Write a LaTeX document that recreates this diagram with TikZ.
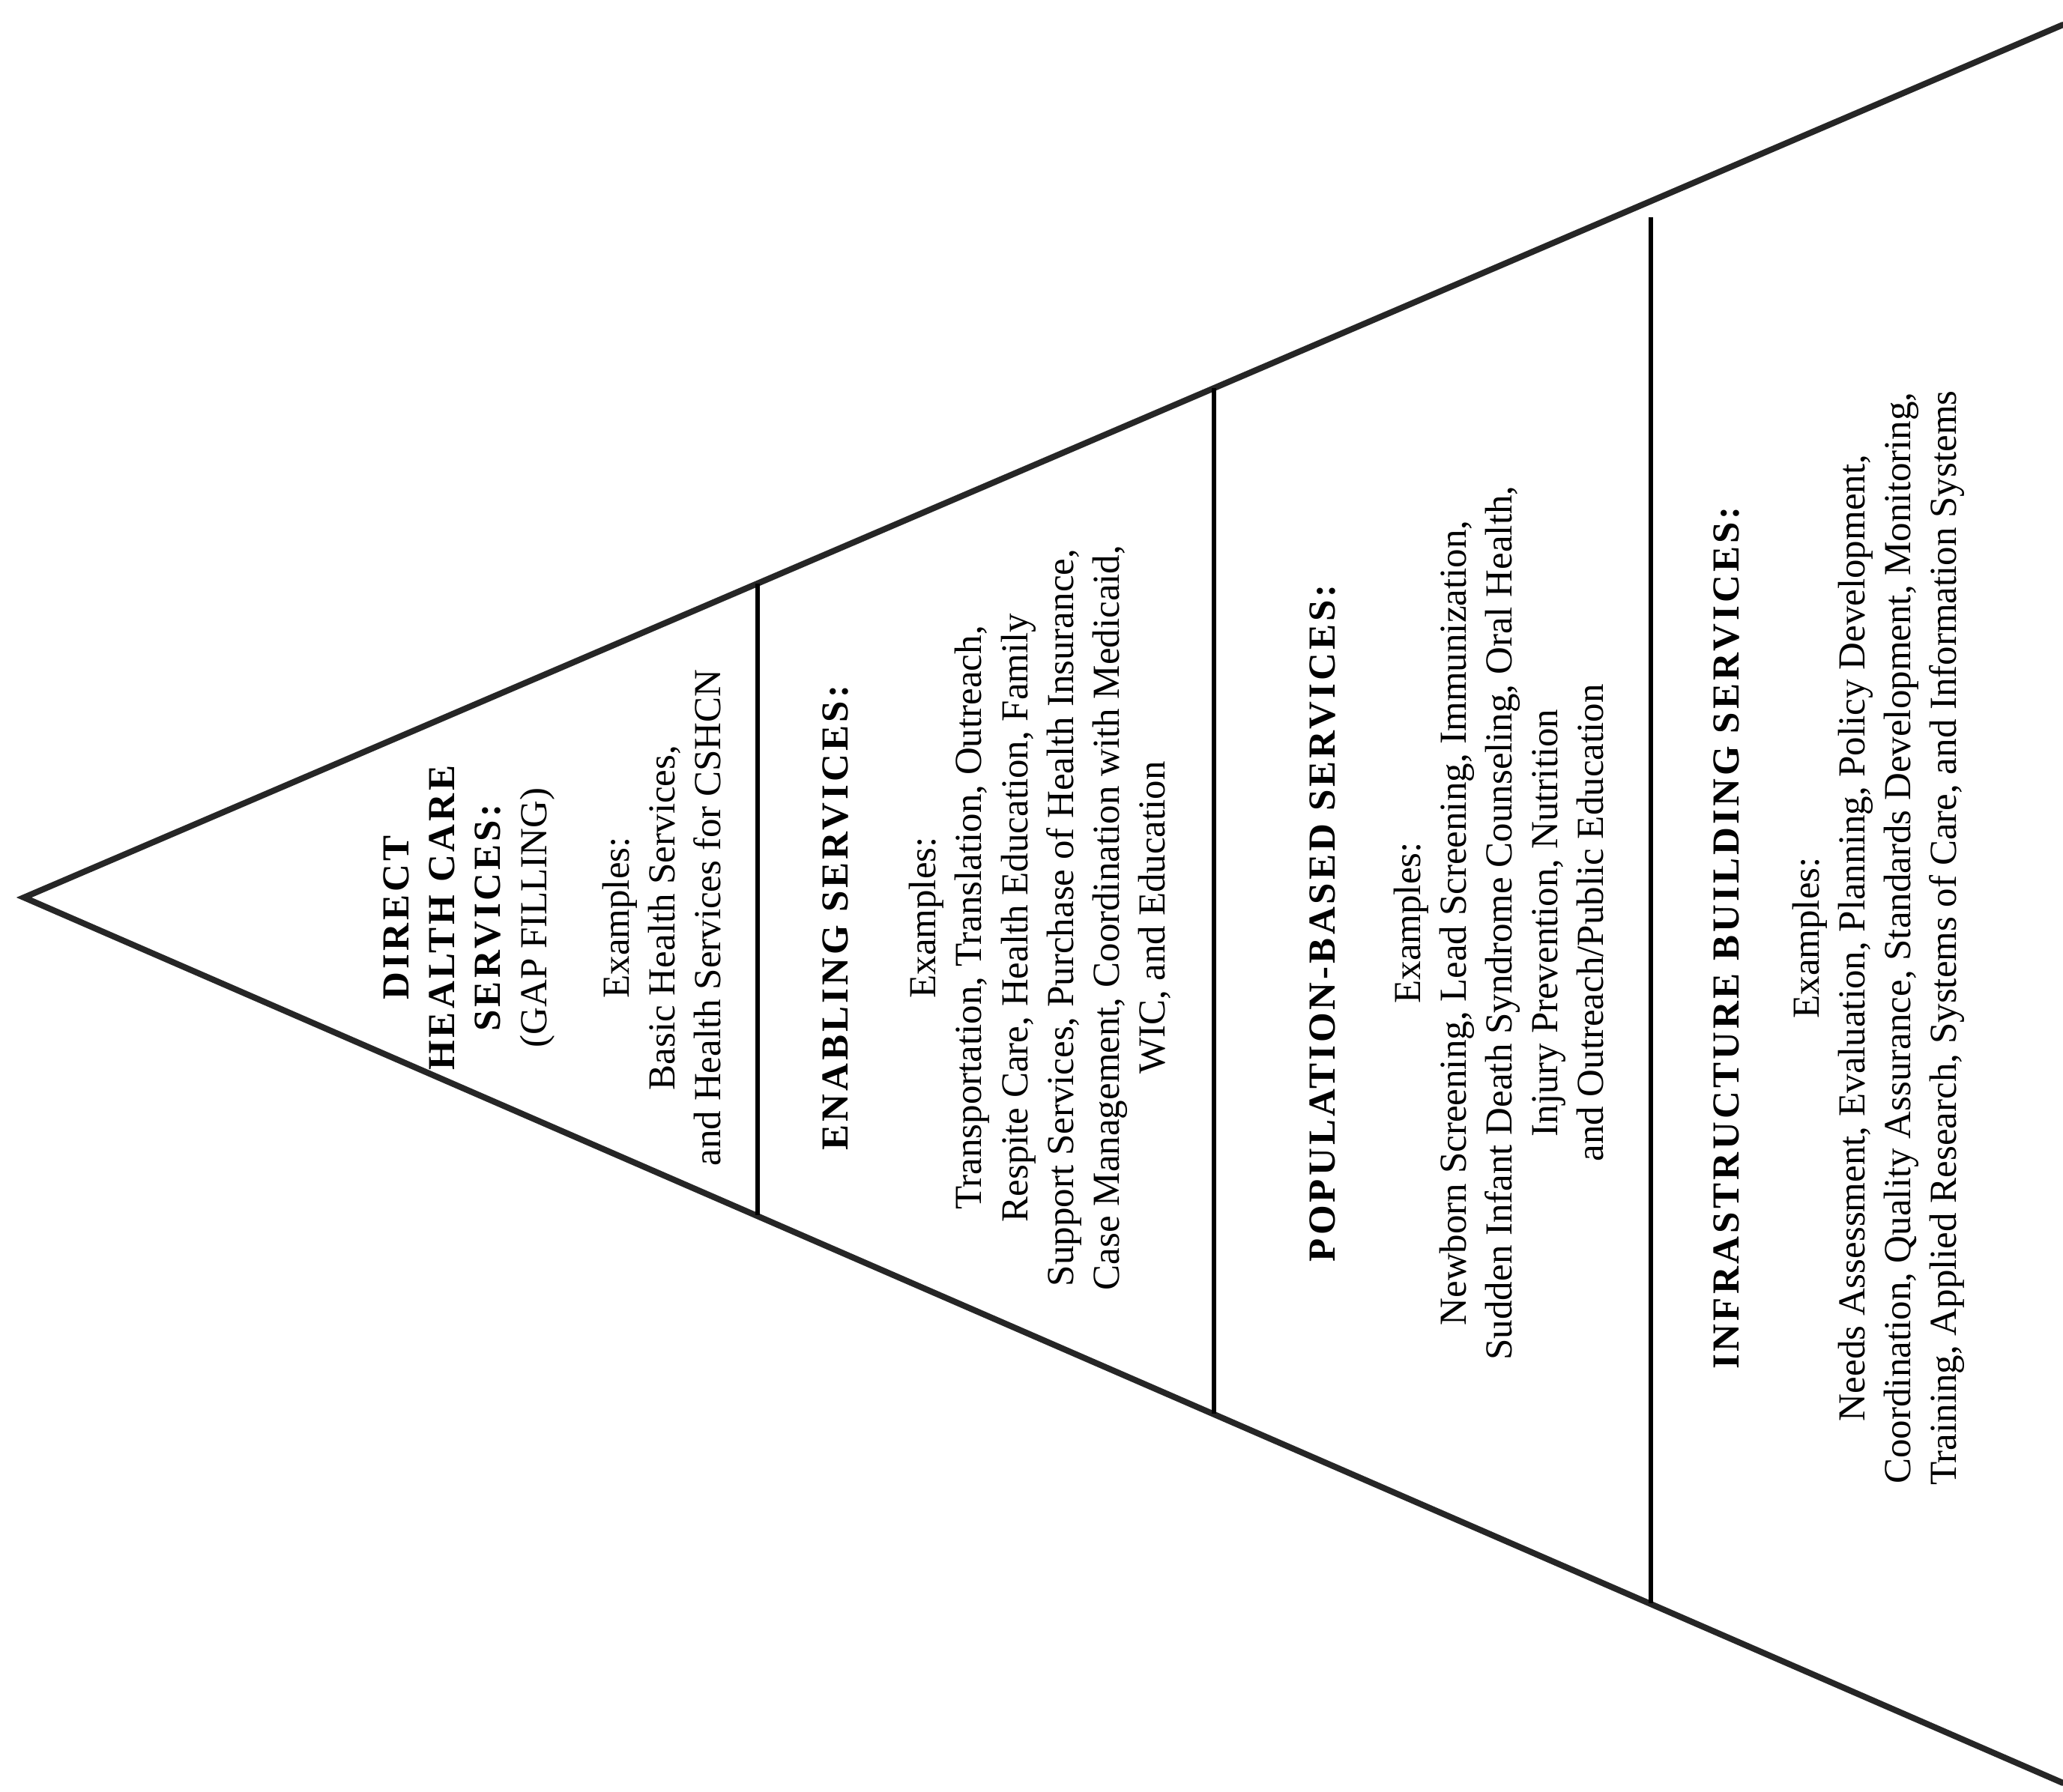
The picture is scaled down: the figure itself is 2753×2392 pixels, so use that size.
\documentclass[tikz,border=0pt]{standalone}
\usepackage{fontspec}
\setmainfont{Liberation Serif}
\def\mytextsize{\fontsize{14.5}{17.4}\selectfont}
\def\mygap{14pt}
\def\mytitle#1{{\bfseries\addfontfeatures{LetterSpace=8}#1}}
\tikzset{
edge line/.style={line width=2.3pt,draw=black!85,line cap=round}, % outer sides
divider/.style={line width=1.7pt,draw=black},                    % tier borders
tier/.style={rotate=90,align=center,inner sep=0pt,font=\mytextsize},
}

\begin{document}
\begin{tikzpicture}[x=0.01cm,y=-0.01cm]
\useasboundingbox (0,0) rectangle (2753,2392);
\coordinate (apex) at (32,1198);
\coordinate (top end) at (2753,33);
\coordinate (bottom end) at (2753,2380);
\coordinate (d1 top) at (1011,779);
\coordinate (d1 bottom) at (1011,1622);
\coordinate (d2 top) at (1620,518);
\coordinate (d2 bottom) at (1620,1887);
\coordinate (d3 top) at (2203,290);
\coordinate (d3 bottom) at (2203,2140);
\draw[edge line] (top end) -- (apex) -- (bottom end);
\draw[divider] (d1 top) -- (d1 bottom);
\draw[divider] (d2 top) -- (d2 bottom);
\draw[divider] (d3 top) -- (d3 bottom);
\node[tier] (direct) at (737,1225) {\mytitle{DIRECT}\\\mytitle{HEALTH CARE}\\\mytitle{SERVICES:}\\(GAP FILLING)\\[\mygap]
Examples:\\Basic Health Services,\\and Health Services for CSHCN};
\node[tier] (enabling) at (1330,1225) {\mytitle{ENABLING SERVICES:}\\[16pt]
Examples:\\Transportation, Translation, Outreach,\\Respite Care, Health Education, Family\\
Support Services, Purchase of Health Insurance,\\Case Management, Coordination with Medicaid,\\WIC, and Education};
\node[tier] (population) at (1944,1232) {\mytitle{POPULATION-BASED SERVICES:}\\[15pt]
Examples:\\Newborn Screening, Lead Screening, Immunization,\\Sudden Infant Death Syndrome Counseling, Oral Health,\\
Injury Prevention, Nutrition\\and Outreach/Public Education};
\node[tier] (infrastructure) at (2454,1252) {\mytitle{INFRASTRUCTURE BUILDING SERVICES:}\\[13pt]
Examples:\\Needs Assessment, Evaluation, Planning, Policy Development,\\
Coordination, Quality Assurance, Standards Development, Monitoring,\\
Training, Applied Research, Systems of Care, and Information Systems};
\end{tikzpicture}
\end{document}
